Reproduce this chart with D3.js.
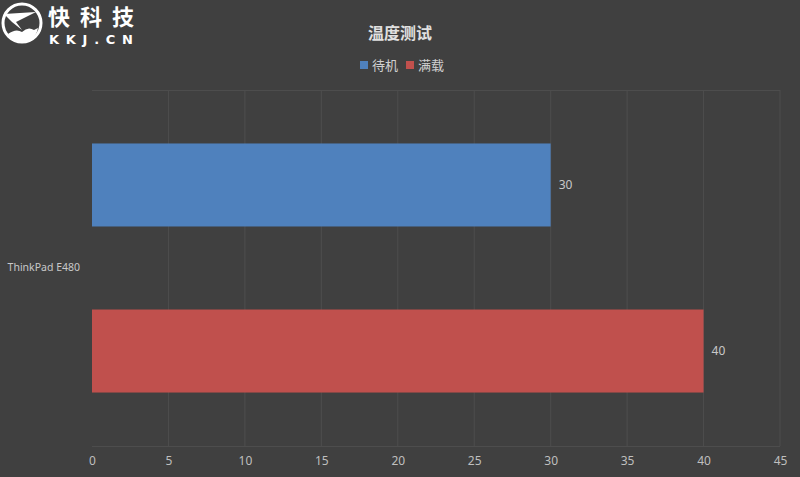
<!DOCTYPE html>
<html><head><meta charset="utf-8">
<script src="https://cdn.jsdelivr.net/npm/d3@7"></script>
<style>
html,body{margin:0;padding:0;background:#404040;}
svg{display:block;}
</style></head>
<body>
<script>
const categories = ["ThinkPad E480"];
const seriesNames = ["待机", "满载"];
const seriesValues = [30, 40];
const seriesColors = ["#4f81bd", "#c0504d"];
const xTicks = [0, 5, 10, 15, 20, 25, 30, 35, 40, 45];
const title = "温度测试";

const W = 800, H = 477;
const m = {left: 92, right: 20, top: 90, bottom: 31};
const svg = d3.select("body").append("svg").attr("width", W).attr("height", H);
svg.append("rect").attr("width", W).attr("height", H).attr("fill", "#404040");

const x = d3.scaleLinear().domain([0, 45]).range([m.left, W - m.right]);
const yCat = d3.scaleBand().domain(categories).range([m.top, H - m.bottom]);
const ySer = d3.scaleBand().domain(seriesNames).range([0, yCat.bandwidth()])
  .paddingInner(0.5).paddingOuter(0.322);

// gridlines
const grid = svg.append("g");
grid.selectAll("line.v").data(xTicks.slice(1)).join("line")
  .attr("x1", d => x(d)).attr("x2", d => x(d))
  .attr("y1", m.top).attr("y2", H - m.bottom)
  .attr("stroke", "#4d4d4d").attr("stroke-width", 1);
grid.append("line").attr("x1", x(0)).attr("x2", x(45))
  .attr("y1", m.top + 0.5).attr("y2", m.top + 0.5)
  .attr("stroke", "#4d4d4d");
grid.append("line").attr("x1", x(0)).attr("x2", x(45))
  .attr("y1", H - m.bottom + 0.5).attr("y2", H - m.bottom + 0.5)
  .attr("stroke", "#4d4d4d");

// bars
const rows = seriesNames.map((s, i) => ({s, v: seriesValues[i], c: seriesColors[i], cat: categories[0]}));
svg.append("g").selectAll("rect").data(rows).join("rect")
  .attr("x", x(0))
  .attr("y", d => yCat(d.cat) + ySer(d.s))
  .attr("width", d => x(d.v) - x(0))
  .attr("height", ySer.bandwidth())
  .attr("fill", d => d.c);

// value labels
svg.append("g").selectAll("text").data(rows).join("text")
  .attr("x", d => x(d.v) + 8)
  .attr("y", d => yCat(d.cat) + ySer(d.s) + ySer.bandwidth() / 2)
  .attr("dy", "0.35em")
  .attr("fill", "#c8c8c8").attr("font-family", "'Noto Sans', sans-serif").attr("font-size", 12)
  .text(d => d.v);

// x axis
const xAxis = d3.axisBottom(x).tickValues(xTicks).tickSize(0).tickPadding(10);
const gx = svg.append("g").attr("transform", `translate(0,${H - m.bottom})`).call(xAxis);
gx.select(".domain").remove();
gx.selectAll("text").attr("fill", "#bfbfbf").attr("font-family", "'Noto Sans', sans-serif").attr("font-size", 12);

// y axis (category)
const yAxis = d3.axisLeft(yCat).tickSize(0).tickPadding(12);
const gy = svg.append("g").attr("transform", `translate(${m.left},0)`).call(yAxis);
gy.select(".domain").remove();
gy.selectAll("text").attr("fill", "#c8c8c8").attr("font-family", "'Noto Sans', sans-serif").attr("font-size", 10.5);

// title
svg.append("text").attr("x", 400).attr("y", 39).attr("text-anchor", "middle")
  .attr("fill", "#e0e0e0").attr("font-family", "'Noto Sans CJK SC', sans-serif")
  .attr("font-weight", "bold").attr("font-size", 16).text(title);

// legend
const legend = svg.append("g").attr("transform", "translate(360,58)");
const lx = [0, 46];
seriesNames.forEach((s, i) => {
  const g = legend.append("g").attr("transform", `translate(${lx[i]},0)`);
  g.append("rect").attr("x", 0).attr("y", 3).attr("width", 8).attr("height", 8).attr("fill", seriesColors[i]);
  g.append("text").attr("x", 12).attr("y", 12).attr("fill", "#d0d0d0")
    .attr("font-family", "'Noto Sans CJK SC', sans-serif").attr("font-size", 13).text(s);
});

// logo
const logo = svg.append("g");
logo.append("circle").attr("cx", 22).attr("cy", 23).attr("r", 19).attr("fill", "none")
  .attr("stroke", "#ffffff").attr("stroke-width", 3);
logo.append("path").attr("d", "M4,14 L36,12 L16,22 L22,30 L12,22 Z").attr("fill", "#ffffff");
logo.append("path").attr("d", "M8,34 Q16,28 22,32 Q28,26 34,30 L38,28 Q36,40 22,42 Q12,42 8,34 Z").attr("fill", "#ffffff");
logo.append("text").attr("x", 48).attr("y", 25).attr("fill", "#ffffff")
  .attr("font-family", "'Noto Sans CJK SC', sans-serif").attr("font-weight", "bold")
  .attr("font-size", 22).attr("textLength", 86).text("快科技");
logo.append("text").attr("x", 49).attr("y", 44).attr("fill", "#ffffff")
  .attr("font-family", "'DejaVu Sans', sans-serif").attr("font-weight", "bold")
  .attr("font-size", 13).attr("textLength", 84).text("KKJ.CN");
</script>
</body></html>
